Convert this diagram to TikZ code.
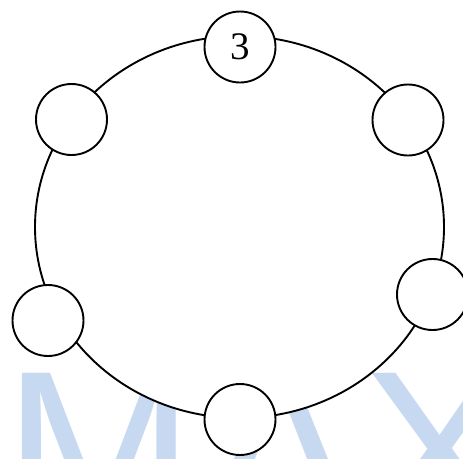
\documentclass[tikz,border=0pt]{standalone}
\usepackage{fontspec}
\setmainfont{Liberation Serif}
\newfontfamily\wmfont{Liberation Sans}
\definecolor{wmblue}{RGB}{198,217,241}
\begin{document}
\begin{tikzpicture}[x=1pt,y=1pt,
  smallc/.style={circle,draw=black,line width=1.9pt,fill=white,minimum size=71pt,inner sep=0pt},
  wm/.style={text=wmblue,font=\wmfont\fontsize{230}{230}\selectfont,anchor=base,inner sep=0pt}]
\useasboundingbox (0,0) rectangle (463,-458);
\clip (0,0) rectangle (463,-458);
% watermark (behind the white-filled ring)
\node[wm] (wmM) at (99.5,-531) {M};
\node[wm] (wmA) at (281,-531) {A};
\node[wm] (wmX) at (439,-531) {X};
% big ring
\draw[line width=1.9pt,fill=white] (239.5,-227) ellipse [x radius=204.5, y radius=191];
% small circles
\node[smallc,font=\fontsize{39}{39}\selectfont] (top) at (240,-47) {3};
\node[smallc] (ul) at (71.5,-119.5) {};
\node[smallc] (ur) at (408,-120) {};
\node[smallc] (rl) at (432.5,-294.5) {};
\node[smallc] (ll) at (48,-320.5) {};
\node[smallc] (bot) at (240,-419.5) {};
\end{tikzpicture}
\end{document}
